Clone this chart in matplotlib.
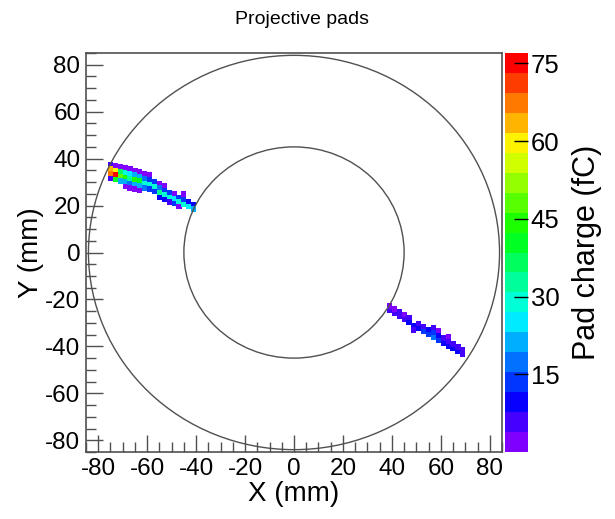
import matplotlib
matplotlib.use('Agg')
import matplotlib.pyplot as plt
from matplotlib.patches import Rectangle, Circle
from matplotlib.collections import PatchCollection
from matplotlib.colors import ListedColormap, BoundaryNorm, hsv_to_rgb
from matplotlib.ticker import MultipleLocator
import numpy as np

plt.rcParams['font.family'] = ['Liberation Sans', 'DejaVu Sans']
plt.rcParams['axes.unicode_minus'] = False

# pad centres (mm) and charge (fC), upper-left track
t1_x = [-75, -75, -75, -75,
        -73, -73, -73, -73,
        -71, -71, -71, -71,
        -69, -69, -69, -69, -69,
        -67, -67, -67, -67, -67,
        -65, -65, -65, -65, -65,
        -63, -63, -63, -63, -63,
        -61, -61, -61, -61,
        -59, -59, -59, -59,
        -57, -57, -57,
        -55, -55, -55, -55,
        -53, -53, -53, -53,
        -51, -51, -51,
        -49, -49, -49,
        -47, -47, -47,
        -45, -45, -45,
        -43, -43,
        -41, -41]
t1_y = [37.5, 35.5, 33.5, 31.5,
        37.0, 35.0, 33.0, 31.0,
        36.5, 34.5, 32.5, 30.5,
        36.0, 34.0, 32.0, 30.0, 28.0,
        35.5, 33.5, 31.5, 29.5, 27.5,
        35.0, 33.0, 31.0, 29.0, 27.0,
        34.5, 32.5, 30.5, 28.5, 26.5,
        33.5, 31.5, 29.5, 27.5,
        33.0, 31.0, 29.0, 27.0,
        30.0, 28.0, 26.0,
        29.5, 27.5, 25.5, 23.5,
        28.5, 26.5, 24.5, 22.5,
        25.5, 23.5, 21.5,
        25.0, 23.0, 21.0,
        23.5, 21.5, 19.5,
        25.0, 22.5, 20.5,
        21.5, 19.5,
        20.5, 18.5]
t1_q = [4, 62, 68, 5,
        3, 58, 76, 40,
        3, 38, 48, 20,
        3, 30, 45, 22, 3,
        3, 26, 32, 18, 3,
        3, 22, 44, 20, 3,
        3, 20, 40, 22, 3,
        3, 18, 30, 16,
        3, 15, 28, 14,
        12, 30, 12,
        3, 16, 32, 10,
        3, 14, 30, 8,
        12, 28, 4,
        3, 26, 12,
        14, 30, 3,
        3, 12, 28,
        10, 24,
        8, 20]

# lower-right track
t2_x = [39, 39, 41, 41, 43, 43, 45, 45, 47, 47, 49, 49, 51, 51, 53, 53,
        55, 55, 57, 57, 57, 59, 59, 59, 61, 61, 63, 63, 63,
        65, 65, 67, 67, 69, 69]
t2_y = [-24.8, -22.8, -26.0, -24.0, -27.3, -25.3, -28.5, -26.5, -29.8, -27.8,
        -31.0, -33.0, -32.3, -30.3, -33.5, -31.5, -34.8, -32.8, -36.0, -34.0, -32.0,
        -37.3, -35.3, -33.3, -38.5, -36.5, -39.8, -37.8, -35.8,
        -41.0, -39.0, -42.3, -40.3, -43.5, -41.5]
t2_q = [4, 3, 6, 3, 6, 4, 7, 3, 8, 5, 8, 4, 10, 4, 12, 6,
        14, 8, 18, 12, 4, 14, 9, 3, 10, 7, 10, 6, 3,
        9, 6, 8, 5, 7, 4]

r_inner = 45
r_outer = 84
q_min, q_max, n_levels = 0, 77, 20
cbar_ticks = [15, 30, 45, 60, 75]

hues = np.linspace(0.75, 0.0, n_levels)
cmap = ListedColormap([hsv_to_rgb((h, 1, 1)) for h in hues])
norm = BoundaryNorm(np.linspace(q_min, q_max, n_levels + 1), n_levels)

fig = plt.figure(figsize=(6.15, 5.19), dpi=100)
ax = fig.add_axes([86/615, 67/519, 416/615, 399/519])
cax = fig.add_axes([505/615, 67/519, 23/615, 399/519])

pads = [Rectangle((x - 1.05, y - 1.15), 2.1, 2.3) for x, y in zip(t1_x + t2_x, t1_y + t2_y)]
pc = PatchCollection(pads, cmap=cmap, norm=norm, edgecolor='none')
pc.set_array(np.array(t1_q + t2_q, dtype=float))
ax.add_collection(pc)

for r in (r_outer, r_inner):
    ax.add_patch(Circle((0, 0), r, fill=False, ec='#505050', lw=1.0))

ax.set_xlim(-85, 85)
ax.set_ylim(-85, 85)
ax.xaxis.set_major_locator(MultipleLocator(20))
ax.yaxis.set_major_locator(MultipleLocator(20))
ax.xaxis.set_minor_locator(MultipleLocator(5))
ax.yaxis.set_minor_locator(MultipleLocator(5))
ax.tick_params(which='both', direction='in', top=False, right=False,
               color='#505050', width=1.0)
ax.tick_params(which='major', length=12, labelsize=17.5, pad=4)
ax.tick_params(which='minor', length=7)
for s in ax.spines.values():
    s.set_color('#505050')
    s.set_linewidth(1.2)

ax.set_xlabel('X (mm)', fontsize=20, labelpad=1)
ax.set_ylabel('Y (mm)', fontsize=20, labelpad=1)
fig.text(0.491, 0.963, 'Projective pads', ha='center', va='center', fontsize=14)

cb = fig.colorbar(pc, cax=cax, ticks=cbar_ticks)
cb.outline.set_visible(False)
cax.tick_params(direction='in', length=10, width=1, color='black', labelsize=18.5, pad=2)
cax.minorticks_off()
cb.set_label('Pad charge (fC)', fontsize=22, labelpad=9)

plt.savefig('out.png', dpi=100)
plt.close()
